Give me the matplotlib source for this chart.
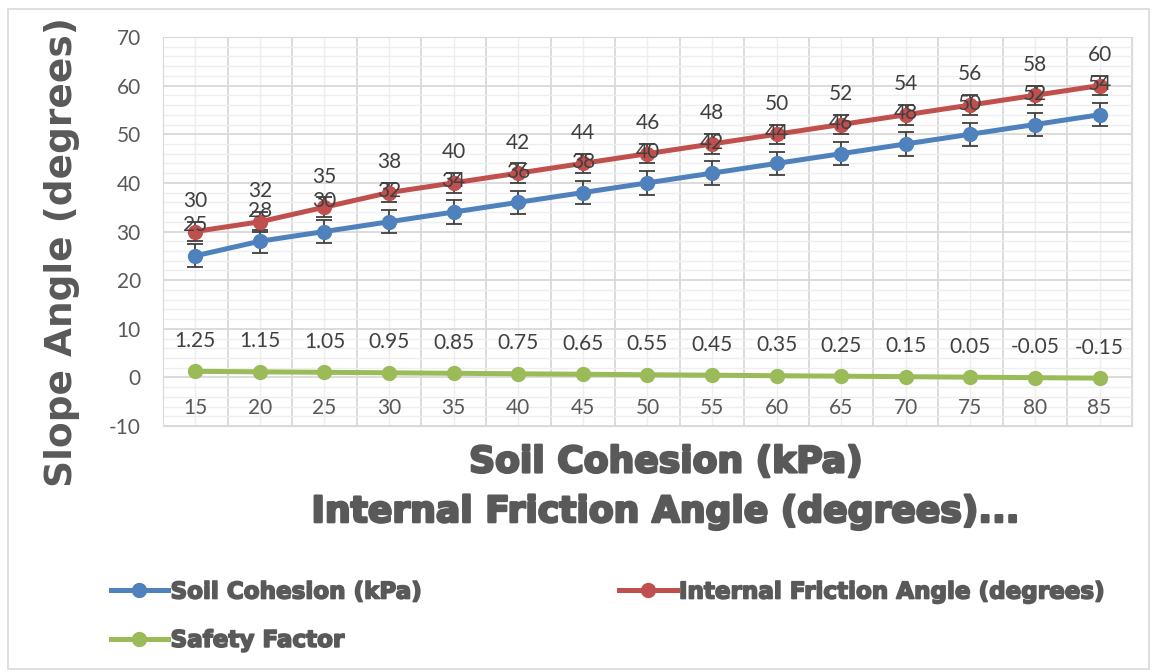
import numpy as np
import matplotlib.pyplot as plt
import matplotlib.patheffects as pe
from matplotlib.patches import Rectangle
from matplotlib.lines import Line2D

plt.rcParams['axes.unicode_minus'] = False

categories = [15, 20, 25, 30, 35, 40, 45, 50, 55, 60, 65, 70, 75, 80, 85]
cohesion = [25, 28, 30, 32, 34, 36, 38, 40, 42, 44, 46, 48, 50, 52, 54]
friction = [30, 32, 35, 38, 40, 42, 44, 46, 48, 50, 52, 54, 56, 58, 60]
safety = [1.25, 1.15, 1.05, 0.95, 0.85, 0.75, 0.65, 0.55, 0.45, 0.35, 0.25, 0.15, 0.05, -0.05, -0.15]
cohesion_err = [2.4] * 15
friction_err = [2.0] * 15

blue = '#4F81BD'
red = '#C0504D'
green = '#9BBB59'
grey = '#595959'
numfont = 'Lato'

fig = plt.figure(figsize=(11.52, 6.72), dpi=100)
fig.patches.append(Rectangle((0.007, 0.005), 0.99, 0.982, transform=fig.transFigure,
                             fill=False, edgecolor='#d9d9d9', linewidth=1.2))
ax = fig.add_axes([0.1415, 0.366, 0.841, 0.579])

x = np.arange(len(categories))
ax.set_xlim(-0.5, len(categories) - 0.5)
ax.set_ylim(-10, 70)

# gridlines
ax.set_yticks(np.arange(-10, 71, 10))
ax.set_yticks(np.arange(-10, 71, 2), minor=True)
ax.set_xticks(np.arange(-0.5, len(categories), 1))
ax.set_xticks(x, minor=True)
ax.grid(which='major', color='#d9d9d9', linewidth=1.3)
ax.grid(which='minor', color='#eeeeee', linewidth=1.0)
ax.set_axisbelow(True)
ax.tick_params(axis='x', which='both', length=0, labelbottom=False)
ax.tick_params(axis='y', which='both', length=0, labelsize=15, labelcolor=grey, pad=16)
for lab in ax.get_yticklabels():
    lab.set_fontfamily(numfont)
for s in ax.spines.values():
    s.set_color('#d9d9d9')

lw = 3.6
ms = 10
ax.errorbar(x, cohesion, yerr=cohesion_err, color=blue, lw=lw, marker='o', ms=ms,
            ecolor='#404040', elinewidth=1.3, capsize=6, capthick=1.3, zorder=3)
ax.errorbar(x, friction, yerr=friction_err, color=red, lw=lw, marker='o', ms=ms,
            ecolor='#404040', elinewidth=1.3, capsize=6, capthick=1.3, zorder=4)
ax.plot(x, safety, color=green, lw=lw, marker='o', ms=ms, zorder=3)

for xi, c, f, s in zip(x, cohesion, friction, safety):
    for val, txt in ((c, str(c)), (f, str(f)), (s, '%.2f' % s)):
        ax.annotate(txt, (xi, val), xytext=(0, 22), textcoords='offset points',
                    ha='center', va='center', fontsize=15, color='#404040',
                    family=numfont, zorder=5)
    ax.text(xi, -6.2, str(categories[xi]), ha='center', va='center', fontsize=15,
            color=grey, family=numfont)

heavy = [pe.withStroke(linewidth=1.8, foreground=grey)]
fig.text(0.054, 0.625, 'Slope Angle (degrees)', rotation=90, ha='center', va='center',
         fontsize=27, fontweight='bold', color=grey)
fig.text(0.578, 0.312, 'Soil Cohesion (kPa)', ha='center', va='center',
         fontsize=26, fontweight='bold', color=grey, path_effects=heavy)
fig.text(0.578, 0.238, 'Internal Friction Angle (degrees)...', ha='center', va='center',
         fontsize=26, fontweight='bold', color=grey, path_effects=heavy)

handles = [
    Line2D([], [], color=blue, lw=lw, marker='o', ms=ms),
    Line2D([], [], color=green, lw=lw, marker='o', ms=ms),
    Line2D([], [], color=red, lw=lw, marker='o', ms=ms),
]
labels = ['Soil Cohesion (kPa)', 'Safety Factor', 'Internal Friction Angle (degrees)']
leg = fig.legend(handles, labels, ncol=2, loc='upper left', bbox_to_anchor=(0.078, 0.167),
                 frameon=False, handlelength=2.5, handletextpad=0.1, columnspacing=8.6,
                 labelspacing=1.1, prop={'size': 16.6, 'weight': 'bold'})
for t in leg.get_texts():
    t.set_color(grey)
    t.set_path_effects([pe.withStroke(linewidth=1.2, foreground=grey)])

fig.savefig('out.png', dpi=100)
